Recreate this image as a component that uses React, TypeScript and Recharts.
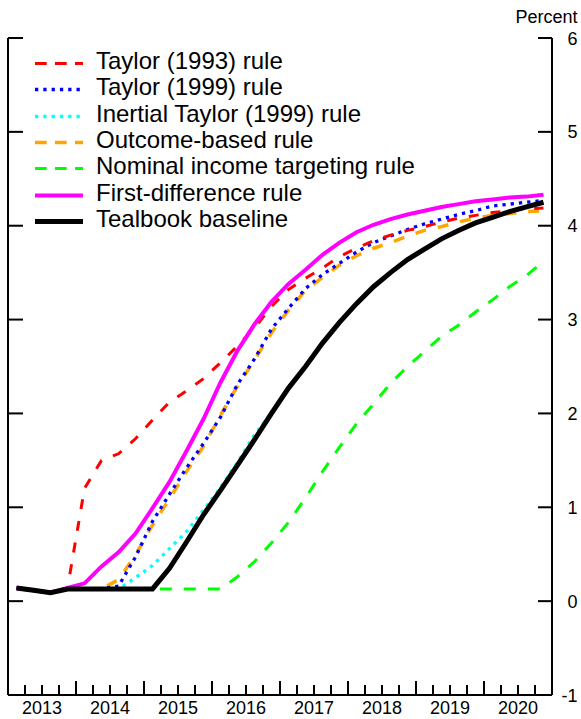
import { LineChart, Line, XAxis, YAxis, Legend } from 'recharts'

// quarterly path, 2013Q1 .. 2020Q4
const years = ['2013', '2014', '2015', '2016', '2017', '2018', '2019', '2020']
const quarterPos = Array.from({ length: 32 }, (_, i) => i + 0.5)
const xTicks = Array.from({ length: 33 }, (_, i) => i)
const yTicks = [-1, 0, 1, 2, 3, 4, 5, 6]

const taylor1993 = [0.14, 0.115, 0.09, 0.14, 1.2, 1.5, 1.57, 1.73, 1.93, 2.12, 2.24, 2.37, 2.54, 2.72, 2.91, 3.14, 3.32, 3.44, 3.55, 3.67, 3.76, 3.84, 3.9, 3.95, 3.99, 4.04, 4.08, 4.11, 4.14, 4.16, 4.18, 4.19]
const taylor1999 = [0.14, 0.115, 0.09, 0.13, 0.13, 0.13, 0.16, 0.47, 0.85, 1.14, 1.42, 1.68, 1.96, 2.31, 2.58, 2.9, 3.12, 3.33, 3.48, 3.6, 3.72, 3.82, 3.89, 3.96, 4.02, 4.07, 4.12, 4.16, 4.21, 4.23, 4.25, 4.27]
const inertial1999 = [0.14, 0.115, 0.09, 0.13, 0.13, 0.13, 0.13, 0.25, 0.38, 0.56, 0.74, 0.97, 1.21, 1.48, 1.77, 2.01, 2.27, 2.5, 2.75, 2.97, 3.17, 3.35, 3.5, 3.64, 3.75, 3.86, 3.95, 4.03, 4.09, 4.15, 4.2, 4.25]
const outcomeBased = [0.14, 0.115, 0.09, 0.13, 0.13, 0.13, 0.23, 0.49, 0.81, 1.09, 1.38, 1.65, 1.98, 2.29, 2.57, 2.86, 3.1, 3.31, 3.45, 3.58, 3.68, 3.76, 3.82, 3.89, 3.95, 3.99, 4.04, 4.08, 4.11, 4.13, 4.15, 4.16]
const nominalIncome = [0.14, 0.115, 0.09, 0.13, 0.13, 0.13, 0.13, 0.13, 0.13, 0.13, 0.13, 0.13, 0.13, 0.26, 0.42, 0.62, 0.84, 1.1, 1.38, 1.64, 1.89, 2.1, 2.32, 2.5, 2.66, 2.82, 2.94, 3.08, 3.21, 3.35, 3.47, 3.62]
const firstDifference = [0.14, 0.115, 0.09, 0.14, 0.19, 0.37, 0.52, 0.72, 0.99, 1.27, 1.6, 1.94, 2.33, 2.67, 2.95, 3.19, 3.38, 3.53, 3.69, 3.82, 3.93, 4.01, 4.07, 4.12, 4.16, 4.2, 4.23, 4.26, 4.28, 4.3, 4.31, 4.33]
const tealbook = [0.14, 0.115, 0.09, 0.13, 0.13, 0.13, 0.13, 0.13, 0.13, 0.35, 0.63, 0.92, 1.18, 1.45, 1.72, 2.0, 2.27, 2.5, 2.75, 2.97, 3.17, 3.35, 3.5, 3.64, 3.75, 3.86, 3.95, 4.03, 4.09, 4.15, 4.2, 4.25]

const data = quarterPos.map((q, i) => ({
  q,
  taylor93: taylor1993[i],
  taylor99: taylor1999[i],
  inertial: inertial1999[i],
  outcome: outcomeBased[i],
  nominal: nominalIncome[i],
  firstDiff: firstDifference[i],
  tealbook: tealbook[i],
}))

// legend order
const series = [
  { key: 'taylor93', name: 'Taylor (1993) rule', color: '#ff0000', width: 3, dash: '10 12', legendDash: '11.7 8.3' },
  { key: 'taylor99', name: 'Taylor (1999) rule', color: '#0000ff', width: 3.3, dash: '3.3 5', legendDash: '3.3 5' },
  { key: 'inertial', name: 'Inertial Taylor (1999) rule', color: '#00ffff', width: 3.3, dash: '3.3 5', legendDash: '3.3 5' },
  { key: 'outcome', name: 'Outcome-based rule', color: '#ffa500', width: 3.5, dash: '11 12', legendDash: '11.7 8.3' },
  { key: 'nominal', name: 'Nominal income targeting rule', color: '#00ff00', width: 3, dash: '12 12', legendDash: '11.7 8.3' },
  { key: 'firstDiff', name: 'First-difference rule', color: '#ff00ff', width: 4, dash: undefined, legendDash: undefined },
  { key: 'tealbook', name: 'Tealbook baseline', color: '#000000', width: 5, dash: undefined, legendDash: undefined },
]

const drawOrder = ['nominal', 'inertial', 'outcome', 'taylor99', 'taylor93', 'firstDiff', 'tealbook']

const XTick = (props: any) => {
  const { x, y, payload } = props
  const v = payload.value
  const major = v % 4 === 0
  return (
    <g>
      <line x1={x} x2={x} y1={y} y2={y - (major ? 14 : 10)} stroke="#000" strokeWidth={2} />
      {v % 4 === 2 && (
        <text x={x} y={y + 19} textAnchor="middle" fontSize={18} fill="#000">
          {years[(v - 2) / 4]}
        </text>
      )}
    </g>
  )
}

const RightTick = (props: any) => {
  const { x, y, payload } = props
  const v = payload.value
  return (
    <g>
      {v > -1 && <line x1={x - 14} x2={x} y1={y} y2={y} stroke="#000" strokeWidth={2} />}
      <text x={x + 25.5} y={y + 6.5} textAnchor="end" fontSize={18} fill="#000">{v}</text>
      {v === 6 && (
        <text x={x + 25.5} y={y - 15} textAnchor="end" fontSize={18} fill="#000">Percent</text>
      )}
    </g>
  )
}

const LeftTick = (props: any) => {
  const { x, y, payload } = props
  return (
    <g>
      {payload.value > -1 && <line x1={x} x2={x + 15} y1={y} y2={y} stroke="#000" strokeWidth={2} />}
    </g>
  )
}

const LegendBox = () => (
  <div style={{ fontSize: 24, lineHeight: '26.4px', color: '#000' }}>
    {series.map(s => (
      <div key={s.key} style={{ display: 'flex', height: 26.4 }}>
        <svg width={48} height={26.4} style={{ display: 'block', flex: 'none' }}>
          <line x1={0} x2={48} y1={15.5} y2={15.5} stroke={s.color} strokeWidth={s.width} strokeDasharray={s.legendDash} />
        </svg>
        <span style={{ marginLeft: 13, whiteSpace: 'nowrap' }}>{s.name}</span>
      </div>
    ))}
  </div>
)

export default function App() {
  return (
    <div style={{ position: 'absolute', left: 0, top: 0, fontFamily: '"Liberation Sans", Arial, sans-serif' }}>
      <LineChart width={581} height={719} data={data} margin={{ top: 38, right: 0, bottom: 0, left: 7 }}>
        <XAxis
          dataKey="q"
          type="number"
          domain={[0, 32]}
          ticks={xTicks}
          interval={0}
          height={24}
          tickLine={false}
          tickSize={0}
          tickMargin={0}
          axisLine={{ stroke: '#000', strokeWidth: 2 }}
          tick={<XTick />}
        />
        <YAxis
          yAxisId="l"
          orientation="left"
          type="number"
          width={1}
          domain={[-1, 6]}
          allowDataOverflow
          ticks={yTicks}
          interval={0}
          tickLine={false}
          tickSize={0}
          tickMargin={0}
          axisLine={{ stroke: '#000', strokeWidth: 2 }}
          tick={<LeftTick />}
        />
        <YAxis
          yAxisId="r"
          orientation="right"
          type="number"
          width={29}
          domain={[-1, 6]}
          allowDataOverflow
          ticks={yTicks}
          interval={0}
          tickLine={false}
          tickSize={0}
          tickMargin={0}
          axisLine={{ stroke: '#000', strokeWidth: 2 }}
          tick={<RightTick />}
        />
        <Legend
          layout="vertical"
          align="center"
          verticalAlign="middle"
          wrapperStyle={{ left: 35, top: 47.8, width: 420, height: 'auto' }}
          content={() => <LegendBox />}
        />
        {drawOrder.map(k => {
          const s = series.find(d => d.key === k)!
          return (
            <Line
              key={k}
              yAxisId="r"
              type="linear"
              dataKey={k}
              name={s.name}
              stroke={s.color}
              strokeWidth={s.width}
              strokeDasharray={s.dash}
              dot={false}
              activeDot={false}
              isAnimationActive={false}
            />
          )
        })}
      </LineChart>
    </div>
  )
}
